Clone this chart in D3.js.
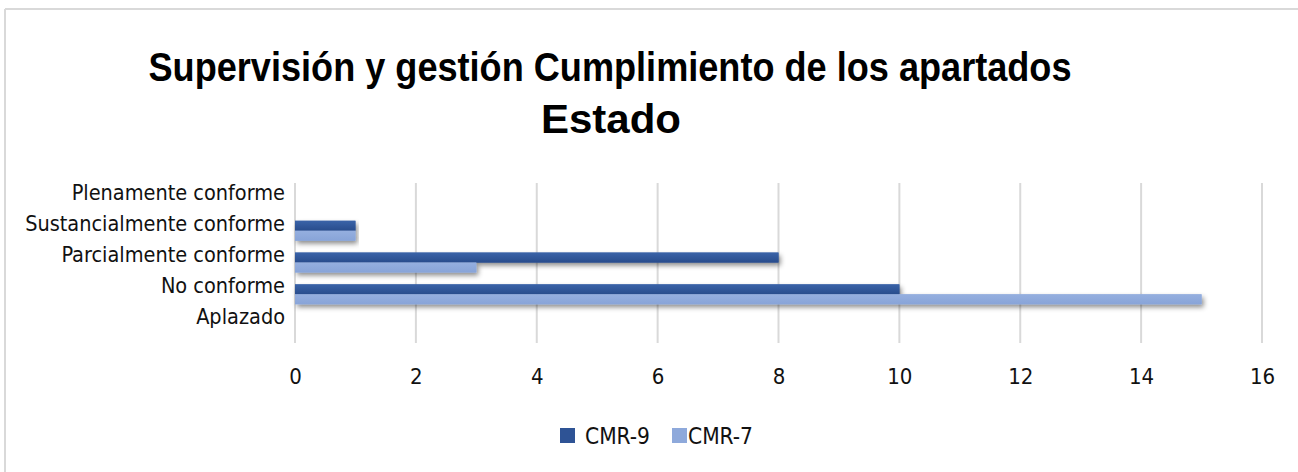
<!DOCTYPE html>
<html><head><meta charset="utf-8">
<script src="https://cdn.jsdelivr.net/npm/d3@7"></script>
<style>html,body{margin:0;padding:0;background:#fff;}svg{display:block;}</style>
</head><body>
<script>
const categories = ["Plenamente conforme","Sustancialmente conforme","Parcialmente conforme","No conforme","Aplazado"];
const seriesNames = ["CMR-9","CMR-7"];
const cmr9 = [0, 1, 8, 10, 0];
const cmr7 = [0, 1, 3, 15, 0];
const xTicks = [0,2,4,6,8,10,12,14,16];
const titleLines = ["Supervisión y gestión Cumplimiento de los apartados","Estado"];
const colors = ["#2E5395","#8EA9DB"];

const W = 1298, H = 472;
const FONT = "DejaVu Sans Condensed, DejaVu Sans, sans-serif";
const svg = d3.select("body").append("svg").attr("width", W).attr("height", H);
const defs = svg.append("defs");
const f = defs.append("filter").attr("id","sh").attr("x","-5%").attr("y","-60%").attr("width","110%").attr("height","280%");
f.append("feDropShadow").attr("dx",2).attr("dy",3).attr("stdDeviation",2.5).attr("flood-color","#000").attr("flood-opacity",0.45);
const g0 = defs.append("linearGradient").attr("id","gd").attr("x1",0).attr("y1",0).attr("x2",0).attr("y2",1);
g0.append("stop").attr("offset","0").attr("stop-color","#3A63A8");
g0.append("stop").attr("offset","1").attr("stop-color","#284C8C");
const g1 = defs.append("linearGradient").attr("id","gl").attr("x1",0).attr("y1",0).attr("x2",0).attr("y2",1);
g1.append("stop").attr("offset","0").attr("stop-color","#95AFDF");
g1.append("stop").attr("offset","1").attr("stop-color","#88A4D8");
const fills = ["url(#gd)","url(#gl)"];

// frame
svg.append("line").attr("x1",5).attr("x2",W).attr("y1",9).attr("y2",9).attr("stroke","#d9d9d9").attr("stroke-width",2);
svg.append("line").attr("x1",5).attr("x2",5).attr("y1",9).attr("y2",H).attr("stroke","#d9d9d9").attr("stroke-width",2);

// title
svg.append("text").attr("x",610).attr("y",81).attr("text-anchor","middle")
  .attr("font-family","Liberation Sans, Arial, sans-serif").attr("font-weight","bold").attr("font-size",41)
  .attr("textLength",923).attr("lengthAdjust","spacingAndGlyphs").text(titleLines[0]);
svg.append("text").attr("x",611).attr("y",133).attr("text-anchor","middle")
  .attr("font-family","Liberation Sans, Arial, sans-serif").attr("font-weight","bold").attr("font-size",41)
  .attr("textLength",140).attr("lengthAdjust","spacingAndGlyphs").text(titleLines[1]);

const x = d3.scaleLinear().domain([0,16]).range([295,1262]);
const y = d3.scaleBand().domain(categories).range([183,342]).padding(0);
const ySub = d3.scaleBand().domain(seriesNames).range([0, y.bandwidth()]).paddingOuter(0.6).paddingInner(0);
const yLab = d3.scalePoint().domain(categories).range([192,316]);

// gridlines
svg.append("g").selectAll("line").data(xTicks).join("line")
  .attr("x1",d=>x(d)).attr("x2",d=>x(d)).attr("y1",183).attr("y2",343)
  .attr("stroke","#d9d9d9").attr("stroke-width",2);

// x axis labels
const xAxis = svg.append("g").attr("transform","translate(0,343)")
  .call(d3.axisBottom(x).tickValues(xTicks).tickSize(0).tickPadding(25).tickFormat(d3.format("d")));
xAxis.select(".domain").remove();
xAxis.selectAll("text").attr("font-family",FONT).attr("font-size",22).attr("fill","#111");

// category labels
svg.append("g").selectAll("text").data(categories).join("text")
  .attr("x",285).attr("y",d=>yLab(d)).attr("dy","0.36em").attr("text-anchor","end")
  .attr("font-family",FONT).attr("font-size",21.5).attr("fill","#111")
  .text(d=>d);

// bars
const series = [cmr9, cmr7];
const barG = svg.append("g");
[true,false].forEach(shadow=>{
  categories.forEach((c,i)=>{
    series.forEach((s,j)=>{
      if (s[i] > 0) {
        const r = barG.append("rect").attr("x",x(0)).attr("y",y(c)+ySub(seriesNames[j]))
          .attr("width",x(s[i])-x(0)).attr("height",ySub.bandwidth())
          .attr("fill",fills[j]);
        if (shadow) r.attr("filter","url(#sh)");
      }
    });
  });
});

// legend
const legX = [560, 672];
const lg = svg.append("g");
seriesNames.forEach((n,j)=>{
  lg.append("rect").attr("x",legX[j]).attr("y",428).attr("width",15).attr("height",15).attr("fill",colors[j]);
  lg.append("text").attr("x",legX[j] + (j===0?25:16)).attr("y",436).attr("dy","0.36em")
    .attr("font-family",FONT).attr("font-size",22.5).attr("fill","#111").text(n);
});
</script>
</body></html>
